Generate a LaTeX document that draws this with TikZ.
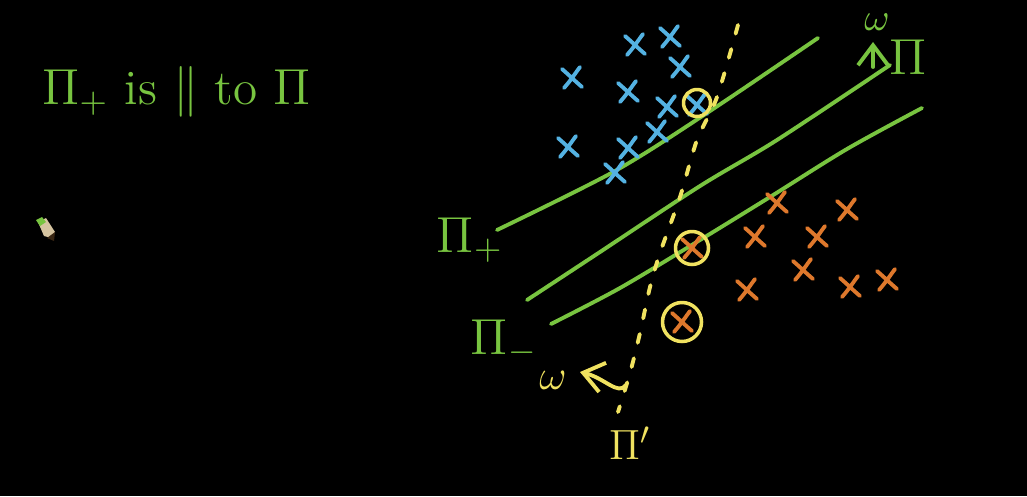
\documentclass[tikz,border=0pt]{standalone}
\usepackage{amsmath,amssymb}
\usepackage{tikz}
\usetikzlibrary{positioning, calc, arrows.meta}

\definecolor{chalkgreen}{RGB}{120,196,64}
\definecolor{chalkblue}{RGB}{84,178,226}
\definecolor{chalkorange}{RGB}{222,120,44}
\definecolor{chalkyellow}{RGB}{240,226,96}
\definecolor{pencilbody}{RGB}{214,196,160}

\tikzset{
  handx/.pic={
    \draw[pic actions] (-10,-9) .. controls (-2,-2) and (3,3) .. (10,9);
    \draw[pic actions] (-8,10) .. controls (-1,2) and (2,-3) .. (8,-11);
  },
  greenline/.style={chalkgreen, line width=1.1pt},
  greentext/.style={chalkgreen, font=\fontsize{14}{16}\selectfont},
  yellowtext/.style={chalkyellow, font=\fontsize{13}{15}\selectfont},
  ringmark/.style={draw=chalkyellow, line width=1pt, circle, inner sep=0pt},
}

\begin{document}
\begin{tikzpicture}[x=0.1mm, y=-0.1mm, line cap=round, line join=round]
        % Background
        \fill[black] (0,0) rectangle (1027,496);
        \useasboundingbox (0,0) rectangle (1027,496);

        % Title
        \node[greentext, anchor=west] (title) at (30,92) {$\Pi_{+}$ is $\parallel$ to $\Pi$};

        % Pencil cursor
        \fill[pencilbody] (38,222) -- (46,218) -- (55,232) -- (52,238) -- (44,236) -- cycle;
        \fill[chalkgreen] (36,220) -- (42,217) -- (46,222) -- (40,226) -- cycle;
        \fill[black!70!brown] (55,232) -- (54,241) -- (47,238) -- cycle;

        % Hyperplane ends
        \coordinate (pplus-a) at (497,230);
        \coordinate (pplus-b) at (818,38);
        \coordinate (pmid-a) at (527,300);
        \coordinate (pmid-b) at (890,65);
        \coordinate (pminus-a) at (551,324);
        \coordinate (pminus-b) at (922,108);

        % Draw the three parallel planes
        \draw[greenline] plot[smooth] coordinates {(pplus-a) (615,171) (707,113) (pplus-b)};
        \draw[greenline] plot[smooth] coordinates {(pmid-a) (600,252) (700,186) (777,140) (pmid-b)};
        \draw[greenline] plot[smooth] coordinates {(pminus-a) (620,288) (700,240) (770,197) (847,149) (pminus-b)};

        % Normal w on the middle plane
        \coordinate (wfoot) at (873,67);
        \coordinate (whead) at (873,42);
        \draw[greenline, -{Straight Barb[length=2mm, width=3mm]}] (wfoot) -- (whead);
        \node[greentext, font=\fontsize{11}{13}\selectfont] (wlabel) at (877,22) {$\omega$};
        \node[greentext] (pilabel) at (908,57) {$\Pi$};
        \node[greentext] (pplus) at (470,240) {$\Pi_{+}$};
        \node[greentext] (pminus) at (504,342) {$\Pi_{-}$};

        % Dotted plane pi'
        \draw[chalkyellow, line width=1.1pt, dash pattern=on 0.9mm off 1.6mm]
          plot[smooth] coordinates {(738,25) (717,97) (697,140) (680,197) (660,253) (650,287) (640,333) (630,373) (618,412)};

        % Yellow w arrow with a hook
        \coordinate (wyfoot) at (626,385);
        \coordinate (wyhead) at (580,372);
        \draw[chalkyellow, line width=1.1pt, -{Straight Barb[length=2mm, width=3mm]}]
          (wyfoot) .. controls (618,396) and (605,378) .. (wyhead);
        \node[yellowtext] (wy) at (553,380) {$\omega$};
        \node[yellowtext] (piprime) at (630,443) {$\Pi'$};

        % Blue points
        \foreach \px/\py in {572/78, 635/45, 670/37, 680/67, 628/92, 667/107, 697/105,
                             568/147, 628/148, 657/132, 615/173}
          \pic[chalkblue, line width=1.1pt] at (\px,\py) {handx};

        % Orange points
        \foreach \px/\py in {777/203, 847/210, 755/237, 817/237, 803/270, 747/290,
                             850/287, 887/280, 692/248, 682/322}
          \pic[chalkorange, line width=1.1pt] at (\px,\py) {handx};

        % Circled support vectors
        \node[ringmark, minimum size=2.7mm] (sv1) at (697,103) {};
        \node[ringmark, minimum size=3.3mm] (sv2) at (692,248) {};
        \node[ringmark, minimum size=3.9mm] (sv3) at (682,322) {};
    \end{tikzpicture}
\end{document}
